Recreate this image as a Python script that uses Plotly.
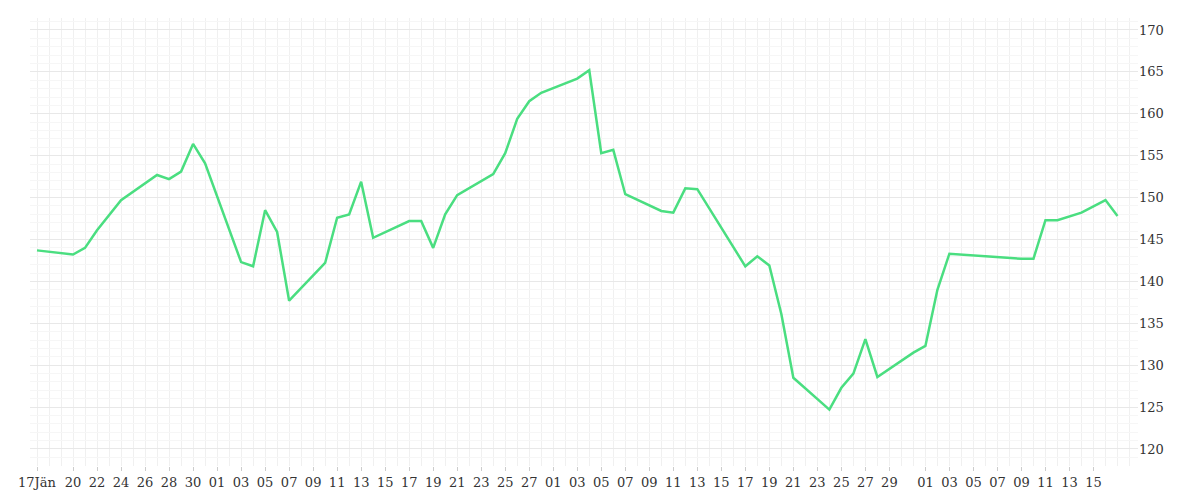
import plotly.graph_objects as go
import pandas as pd

dates = ["2023-01-17","2023-01-20","2023-01-21","2023-01-22","2023-01-24","2023-01-27","2023-01-28","2023-01-29","2023-01-30","2023-01-31",
"2023-02-03","2023-02-04","2023-02-05","2023-02-06","2023-02-07","2023-02-10","2023-02-11","2023-02-12","2023-02-13","2023-02-14",
"2023-02-17","2023-02-18","2023-02-19","2023-02-20","2023-02-21","2023-02-24","2023-02-25","2023-02-26","2023-02-27","2023-02-28",
"2023-03-03","2023-03-04","2023-03-05","2023-03-06","2023-03-07","2023-03-10","2023-03-11","2023-03-12","2023-03-13",
"2023-03-17","2023-03-18","2023-03-19","2023-03-20","2023-03-21","2023-03-24","2023-03-25","2023-03-26","2023-03-27","2023-03-28",
"2023-03-31","2023-04-01","2023-04-02","2023-04-03","2023-04-09","2023-04-10","2023-04-11","2023-04-12","2023-04-14","2023-04-16","2023-04-17"]
values = [143.7,143.2,144.0,146.1,149.7,152.7,152.2,153.1,156.4,154.1,
142.3,141.8,148.5,145.9,137.7,142.2,147.6,148.0,151.9,145.2,
147.2,147.2,144.0,148.0,150.3,152.8,155.3,159.4,161.5,162.5,
164.2,165.2,155.3,155.7,150.4,148.4,148.2,151.1,151.0,
141.8,143.0,141.9,136.1,128.5,124.7,127.3,129.0,133.1,128.6,
131.5,132.3,139.0,143.3,142.7,142.7,147.3,147.3,148.2,149.7,147.8]

tick_dates = ["2023-01-17","2023-01-20","2023-01-22","2023-01-24","2023-01-26","2023-01-28","2023-01-30",
"2023-02-01","2023-02-03","2023-02-05","2023-02-07","2023-02-09","2023-02-11","2023-02-13","2023-02-15","2023-02-17","2023-02-19",
"2023-02-21","2023-02-23","2023-02-25","2023-02-27","2023-03-01","2023-03-03","2023-03-05","2023-03-07","2023-03-09","2023-03-11",
"2023-03-13","2023-03-15","2023-03-17","2023-03-19","2023-03-21","2023-03-23","2023-03-25","2023-03-27","2023-03-29",
"2023-04-01","2023-04-03","2023-04-05","2023-04-07","2023-04-09","2023-04-11","2023-04-13","2023-04-15"]
tick_text = ["17Jän"] + [d[-2:] for d in tick_dates[1:]]

day_grid = [d.strftime("%Y-%m-%d") for d in pd.date_range("2023-01-16", "2023-04-18")]

fig = go.Figure(go.Scatter(x=dates, y=values, mode="lines",
                           line=dict(color="#4ade80", width=2.5), hoverinfo="x+y"))
fig.update_layout(
    width=1200, height=500, paper_bgcolor="white", plot_bgcolor="white",
    margin=dict(l=15, r=70, t=10, b=42), showlegend=False,
    font=dict(family="DejaVu Serif", size=13, color="#333"),
)
fig.update_xaxes(type="date", range=["2023-01-16 10:00", "2023-04-18 17:00"],
                 tickmode="array", tickvals=tick_dates, ticktext=tick_text,
                 showgrid=False, ticks="outside", ticklen=4, tickcolor="#ccc",
                 showline=False, zeroline=False,
                 minor=dict(tickmode="array", tickvals=day_grid, showgrid=True, gridcolor="#f0f0f0"))
fig.update_yaxes(side="right", range=[117.97, 171.43], tickmode="linear", tick0=120, dtick=5,
                 gridcolor="#e8e8e8", zeroline=False, ticks="",
                 minor=dict(dtick=1, showgrid=True, gridcolor="#f6f6f6"))
fig.write_html("out.html")
